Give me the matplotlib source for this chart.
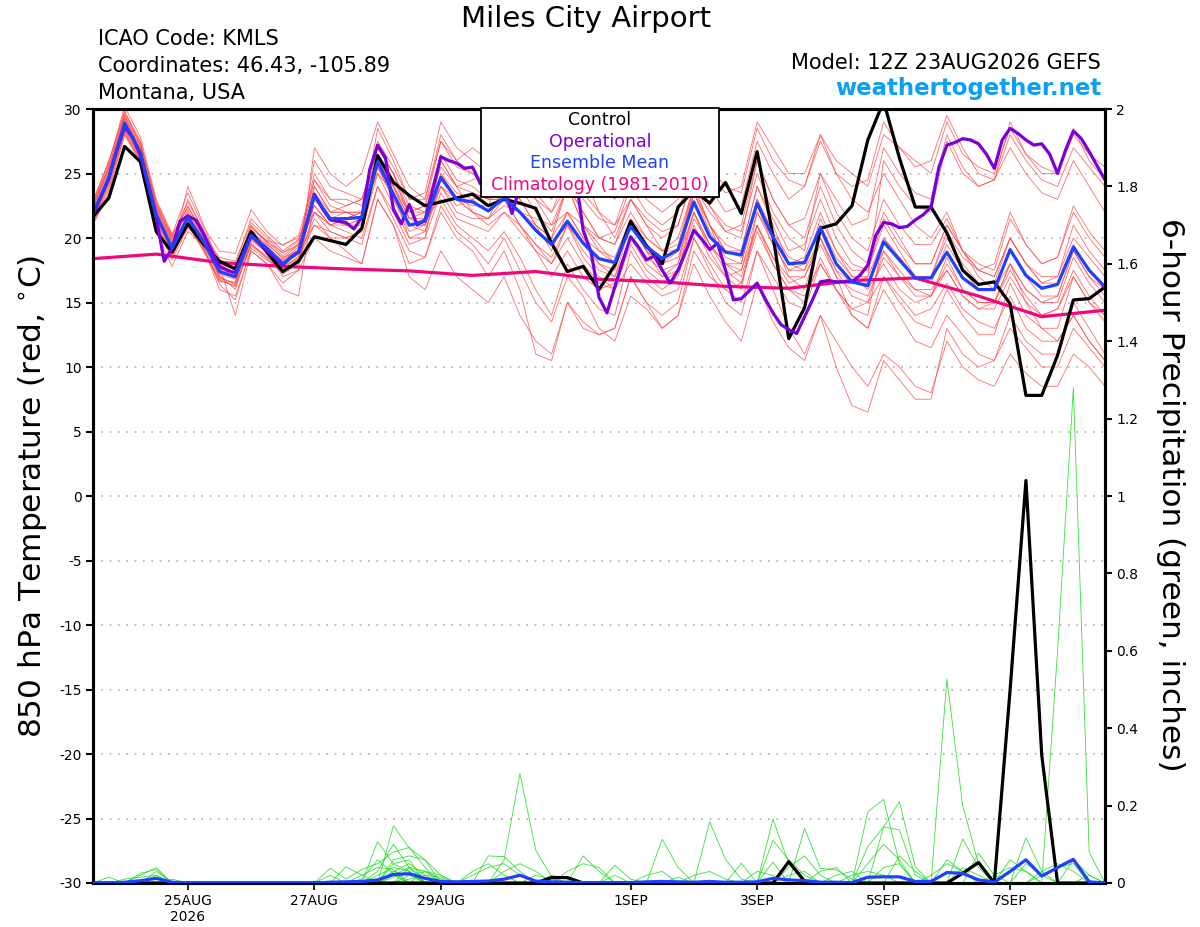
import matplotlib
matplotlib.use('Agg')
import matplotlib.pyplot as plt
from matplotlib.patches import Rectangle
from datetime import datetime, timedelta

plt.rcParams['font.family'] = ['DejaVu Sans']

# ---------------- time axes ----------------
run_start = datetime(2026, 8, 23, 12)
times6 = [run_start + timedelta(hours=6 * i) for i in range(65)]
times3 = [run_start + timedelta(hours=3 * j) for j in range(129)]
times_clim = [run_start + timedelta(days=k) for k in range(17)]

tick_dates = [datetime(2026, 8, 25), datetime(2026, 8, 27), datetime(2026, 8, 29),
              datetime(2026, 9, 1), datetime(2026, 9, 3), datetime(2026, 9, 5),
              datetime(2026, 9, 7)]
tick_labels = ["25AUG\n2026", "27AUG", "29AUG", "1SEP", "3SEP", "5SEP", "7SEP"]

temp_ticks = [-30, -25, -20, -15, -10, -5, 0, 5, 10, 15, 20, 25, 30]
precip_ticks = [0, 0.2, 0.4, 0.6, 0.8, 1.0, 1.2, 1.4, 1.6, 1.8, 2.0]
precip_tick_labels = ["0", "0.2", "0.4", "0.6", "0.8", "1", "1.2", "1.4", "1.6", "1.8", "2"]

# ---------------- 850 hPa temperature (deg C), 6-hourly ----------------
ens_mean_t = [21.9, 24.7, 28.9, 26.6, 21.8, 19.2, 21.6, 19.7, 17.4, 17.0,
              20.2, 19.2, 18.0, 18.9, 23.3, 21.5, 21.5, 21.6, 25.9, 23.4,
              21.0, 21.3, 24.7, 23.0, 22.8, 22.1, 23.1, 22.0, 20.6, 19.5,
              21.3, 19.6, 18.4, 18.1, 20.9, 19.3, 18.4, 19.1, 22.8, 20.1,
              18.9, 18.7, 22.7, 20.1, 18.0, 18.1, 20.8, 18.0, 16.6, 16.3,
              19.7, 18.3, 16.9, 16.9, 18.9, 16.9, 16.0, 16.0, 19.1, 17.1,
              16.1, 16.4, 19.3, 17.5, 16.2]

control_t = [21.65, 23.1, 27.1, 25.9, 20.5, 18.9, 21.1, 19.5, 18.2, 17.6,
             20.5, 18.9, 17.4, 18.2, 20.1, 19.8, 19.5, 20.75, 26.4, 24.3,
             23.3, 22.5, 22.8, 23.1, 23.4, 22.5, 23.0, 22.7, 22.3, 19.6,
             17.4, 17.8, 16.0, 17.9, 21.3, 19.4, 18.0, 22.4, 23.7, 22.7,
             24.3, 21.9, 26.7, 20.2, 12.2, 14.6, 20.75, 21.1, 22.5, 27.6,
             30.6, 26.2, 22.4, 22.4, 20.4, 17.5, 16.4, 16.6, 14.9, 7.8,
             7.8, 10.9, 15.2, 15.3, 16.2]

# operational run, 3-hourly
oper_t = [21.8, 23.2, 24.6, 26.8, 28.6, 27.8, 26.4, 24.0, 21.6, 18.2,
          19.2, 21.3, 21.7, 21.4, 20.3, 19.0, 17.8, 17.5, 17.3, 18.8,
          20.2, 19.6, 19.0, 18.5, 17.9, 18.5, 18.9, 21.0, 23.4, 22.3,
          21.4, 21.3, 21.2, 20.7, 21.6, 25.3, 27.2, 26.2, 22.2, 21.1,
          22.6, 21.0, 21.4, 23.8, 26.3, 26.0, 25.8, 25.4, 25.5, 24.2,
          24.0, 24.5, 23.8, 21.9, 24.0, 24.4, 24.8, 25.0, 24.5, 24.9,
          24.6, 25.0, 20.6, 18.9, 15.4, 14.2, 16.2, 18.2, 20.1, 19.3,
          18.3, 18.6, 17.5, 16.5, 17.5, 19.0, 20.6, 19.9, 19.1, 19.6,
          17.5, 15.2, 15.3, 15.9, 16.5, 15.3, 14.2, 13.3, 12.9, 12.6,
          13.9, 15.2, 16.6, 16.7, 16.6, 16.6, 16.6, 17.1, 17.9, 20.2,
          21.2, 21.1, 20.8, 20.9, 21.4, 21.8, 22.4, 25.5, 27.2, 27.4,
          27.7, 27.6, 27.3, 26.5, 25.4, 27.6, 28.5, 28.1, 27.6, 27.2,
          27.3, 26.5, 25.0, 26.8, 28.3, 27.7, 26.7, 25.6, 24.5]

# climatology (1981-2010), daily at 12Z
clim_t = [18.4, 18.75, 18.1, 17.8, 17.6, 17.45, 17.1, 17.4, 16.8, 16.6,
          16.25, 16.1, 16.7, 16.9, 15.5, 13.9, 14.4]

# ensemble members (20 perturbations), 6-hourly
mem01 = [22.5, 25.5, 29.8, 27.5, 22.6, 19.8, 22.5, 20.3, 18.0, 17.6, 21.0, 19.6, 18.4, 19.5,
         25, 23, 23, 22.5, 27.5, 25.5, 23, 23, 27.5, 25.5, 25, 24, 28, 26, 25, 23.5,
         27, 25, 24, 23, 26.5, 24.5, 23.5, 24, 28, 25.5, 24, 23.5, 28.5, 26, 24.5, 24,
         27.5, 25, 24, 24.5, 29, 27, 26, 25, 29, 26.5, 25.5, 25, 28.5, 26.5, 25.5, 25,
         28, 26.5, 25.5]
mem02 = [21.2, 24.0, 28.3, 26.0, 21.0, 18.6, 21.0, 19.0, 16.8, 16.2, 19.5, 18.6, 17.4, 18.3,
         22, 20.5, 20, 19.5, 24, 21.5, 19, 18.5, 22.5, 20.5, 19.5, 18, 20, 17.5, 15, 13.5,
         17, 15.5, 13, 12, 15.5, 14.5, 13, 14, 18, 15.5, 13.5, 12, 16.5, 13.5, 11.5, 10.5,
         14, 12, 10, 8.5, 11, 10, 8.5, 8, 12, 10, 9, 8.5, 11, 9.5, 8.5, 8.5,
         11, 10, 8.5]
mem03 = [22.8, 26.0, 29.5, 26.8, 22.2, 19.5, 23.0, 20.5, 17.2, 16.8, 20.0, 19.0, 17.0, 17.5,
         27, 25, 24, 25, 29, 26.5, 24, 23, 28, 26, 27, 26, 29, 27, 25, 24,
         28, 25, 22, 20, 23, 21, 19, 19, 24, 21, 18, 17, 21, 18, 16, 15.5,
         18, 16, 14.5, 15, 19, 17.5, 16, 15.5, 18.5, 16, 15, 15, 18, 16, 15, 15.5,
         19, 17, 16]
mem04 = [21.5, 24.5, 28.5, 26.3, 21.5, 18.8, 21.2, 19.2, 16.0, 15.5, 19.0, 18.0, 16.5, 17.5,
         20, 19, 18.5, 18, 23, 21, 18, 18.5, 22, 20, 19, 17, 19, 16, 11, 10.5,
         15, 13, 12.5, 13, 17, 15, 13, 14, 19, 17, 16, 15, 19, 16, 13, 11,
         14, 10, 7, 6.5, 10.5, 9, 7.5, 7.5, 13, 11, 10, 10.5, 14, 12, 11, 11,
         15, 13, 11]
mem05 = [22.0, 25.0, 29.2, 27.0, 22.5, 20.0, 22.0, 20.0, 18.5, 18.2, 21.2, 20.0, 18.8, 19.8,
         24, 22, 22.5, 23, 26, 24, 21, 21, 24, 23, 23.5, 23, 25, 24, 23, 22,
         24, 22, 20, 19.5, 22, 20, 19, 19.5, 24, 22, 20.5, 21, 26, 23, 21, 20,
         24, 21, 19, 18, 22, 20, 18, 18, 21, 19, 17.5, 17, 20, 18, 16.5, 17,
         20, 18.5, 17]
mem06 = [21.0, 23.5, 28.0, 25.8, 20.5, 17.8, 20.5, 19.5, 17.5, 17.8, 20.5, 19.5, 18.5, 19.0,
         21, 20, 20, 20.5, 25, 23.5, 20, 20, 26, 24, 24.5, 25, 27, 25, 23.5, 22,
         25, 23.5, 22, 21, 24.5, 23, 22, 23, 27, 25, 23.5, 24, 29, 27, 25, 25,
         28, 25, 23, 22, 25, 23, 21, 20, 22, 19, 17, 16, 18, 15, 13, 12,
         14, 12, 10.5]
mem07 = [22.3, 25.3, 29.0, 27.2, 22.0, 19.0, 24.0, 21.0, 17.8, 14.0, 19.0, 18.0, 16.0, 15.5,
         23, 21.5, 21, 21, 26.5, 24.5, 22, 22.5, 26, 24, 22, 21.5, 24, 23, 21, 19,
         22, 20, 18, 17.5, 21, 19.5, 18.5, 19, 23.5, 21, 19, 18.5, 23, 20, 17, 16,
         20, 17, 14, 13, 16, 14, 12, 11.5, 14, 12.5, 11, 10.5, 13, 11.5, 10, 10,
         13, 11.5, 10]
mem08 = [21.8, 24.5, 28.7, 26.5, 21.8, 19.4, 21.8, 19.9, 17.5, 17.2, 20.4, 19.4, 18.2, 19.3,
         22.5, 21, 21, 21.5, 25.5, 23, 20.5, 21, 25, 23.5, 23, 22, 23.5, 22, 21, 20,
         22, 20, 19, 18.5, 21.5, 20, 19, 20, 24, 21, 19.5, 19, 24, 21.5, 19, 19.5,
         23, 20, 18, 17.5, 21.5, 19.5, 18, 18, 21, 19, 18, 17.5, 21.5, 19.5, 18, 18.5,
         22, 20, 18.5]
mem09 = [22.6, 25.8, 30.2, 27.8, 23.0, 20.3, 23.5, 20.8, 19.0, 18.8, 22.2, 20.5, 19.4, 20.2,
         24.5, 22.5, 22, 22, 27, 25, 21.5, 22, 26.5, 24.5, 24, 23, 23, 22, 21.5, 21,
         22, 21, 20, 20.5, 24, 22, 21, 22, 26, 24, 22, 22.5, 27.5, 25, 23, 24,
         28, 26, 25, 24, 28, 27, 25.5, 26, 29.5, 27, 25, 24.5, 27, 25, 23.5, 23,
         26, 24, 22]
mem10 = [21.4, 24.2, 28.4, 26.2, 21.3, 18.9, 21.0, 19.0, 16.6, 16.6, 20.0, 18.8, 17.8, 18.5,
         21.5, 20, 19, 18, 23, 21, 17, 16, 19, 17, 16, 15, 17, 14, 12, 11,
         15, 13.5, 12.5, 13, 17, 15, 14, 15, 20, 17.5, 15, 14, 19, 17, 15, 14.5,
         18, 16, 14, 13, 17, 15, 13.5, 13, 16, 14, 12.5, 12.5, 16.5, 14, 13, 13,
         17, 15, 13.5]
mem11 = [22.1, 24.8, 29.0, 26.5, 21.6, 19.0, 21.4, 19.6, 17.0, 16.4, 19.6, 18.4, 17.2, 18.0,
         23.5, 22, 22, 21.5, 26, 24, 21.5, 21, 25, 23, 22, 21, 22, 20.5, 19, 17,
         19, 17, 16, 16.5, 20, 18, 17, 18, 22, 19, 17, 17.5, 22, 19.5, 17.5, 18,
         21, 18.5, 17, 16, 18, 16, 15, 15.5, 17.5, 15.5, 14.5, 15, 18, 16, 15, 15,
         18.5, 16.5, 15]
mem12 = [21.7, 24.6, 28.8, 26.9, 22.1, 19.6, 22.2, 20.0, 17.9, 17.6, 20.8, 19.8, 18.6, 19.6,
         22, 21, 21.5, 22, 26, 24, 22, 22.5, 27.5, 26, 25, 24, 26, 25, 24, 23,
         25, 23, 21.5, 21, 23, 21.5, 20.5, 21, 25, 22.5, 21, 20.5, 25, 22, 20, 19,
         25, 23, 21, 21.5, 27, 25, 23.5, 23, 28, 25.5, 24, 24.5, 29, 26.5, 25, 25,
         28.5, 26, 24.5]
mem13 = [22.9, 25.9, 29.9, 27.1, 22.4, 19.9, 21.9, 19.3, 16.4, 15.2, 19.2, 18.3, 17.6, 18.6,
         24, 22, 22, 21.5, 28.5, 26, 23, 23.5, 29, 27, 26, 25, 26.5, 24, 23, 21,
         24, 21, 19, 18, 21, 19, 18, 18.5, 22, 19.5, 18, 17.5, 21, 18.5, 16.5, 17,
         19.5, 17, 16, 15.5, 18.5, 17, 16, 16, 17.5, 15.5, 14.5, 14.5, 17, 15, 14, 14.5,
         17.5, 15.5, 14]
mem14 = [21.3, 24.3, 28.2, 26.1, 20.9, 18.3, 20.8, 19.5, 17.6, 17.4, 20.6, 19.8, 19.5, 20.0,
         22.5, 21, 20.5, 20, 24, 22, 19.5, 20, 23.5, 21.5, 21, 20.5, 22, 21, 19.5, 18,
         20, 18, 16.5, 16, 18, 16.5, 15.5, 16, 20, 18, 16, 16.5, 21, 18.5, 17, 17,
         20, 17.5, 16.5, 17, 26, 24, 22.5, 22, 27.5, 25, 24, 24.5, 28, 26, 24.5, 24,
         27, 25.5, 24]
mem15 = [22.4, 25.2, 29.3, 26.7, 21.9, 19.3, 21.7, 19.8, 17.3, 16.9, 20.3, 19.3, 18.1, 18.8,
         26, 24, 23.5, 23, 27, 25, 22.5, 22, 24.5, 23, 22.5, 22.5, 25.5, 24, 22, 20.5,
         24, 22, 20, 19.5, 23, 21, 20, 21, 25, 22.5, 20.5, 20, 26, 23, 21, 21.5,
         25, 22, 20, 19, 23, 21, 19.5, 19.5, 21.5, 19, 17.5, 17, 20, 18, 16.5, 16.5,
         19.5, 17.5, 16]
mem16 = [21.6, 24.9, 29.6, 27.4, 22.8, 20.1, 22.8, 20.6, 18.3, 17.9, 21.5, 20.2, 19.0, 19.9,
         23, 21.5, 22, 22, 25, 22.5, 20, 20.5, 24, 22, 21.5, 21.5, 22.5, 22, 20.5, 19.5,
         21, 19, 17.5, 17, 20, 18.5, 17.5, 18, 23.5, 20.5, 18.5, 18, 22.5, 19.5, 17.5, 17.5,
         20, 17.5, 15.5, 15, 17, 15.5, 14, 14.5, 16.5, 14.5, 13.5, 13, 15.5, 13, 12, 12,
         14, 12, 10.5]
mem17 = [22.2, 25.6, 29.1, 26.4, 21.7, 19.1, 21.5, 19.7, 17.1, 16.0, 19.8, 18.9, 17.7, 18.4,
         21, 20.5, 20, 20.5, 25.5, 23, 21, 21.5, 24, 22.5, 23, 23.5, 25, 23, 21, 20,
         24, 21, 19.5, 18, 21, 19, 17, 17.5, 21.5, 19.5, 17.5, 16.5, 20.5, 18, 16, 15,
         18.5, 16, 14.5, 14, 20, 18.5, 17, 17, 20.5, 18.5, 17.5, 18, 22, 19.5, 18, 18.5,
         22.5, 20.5, 19]
mem18 = [21.9, 24.4, 28.6, 26.6, 22.3, 19.7, 21.3, 19.4, 16.9, 16.5, 19.9, 19.1, 18.3, 19.1,
         24.5, 23, 22.5, 23, 27, 25, 22, 22, 25.5, 24, 23.5, 23, 23, 21, 19, 18,
         21, 18.5, 17, 16, 19.5, 17.5, 16.5, 17.5, 22, 19.5, 18, 18, 23, 20.5, 18.5, 18,
         21, 18, 16.5, 16.5, 19, 17, 15.5, 15.5, 18, 16, 15, 15, 17.5, 15.5, 14, 14.5,
         17, 15, 14]
mem19 = [22.7, 25.4, 29.4, 27.3, 22.7, 20.2, 22.4, 20.2, 18.2, 17.7, 20.9, 19.7, 18.9, 19.4,
         22, 21, 21.5, 22, 26, 24, 21.5, 21.5, 23, 21, 20, 19, 20.5, 18.5, 16, 14,
         18, 16, 14.5, 14, 19, 17, 16, 17, 21, 18.5, 17, 16, 22, 20, 18, 17.5,
         21.5, 19, 17.5, 17.5, 21, 19, 17, 17, 20, 18, 16.5, 16.5, 20, 18, 17, 17,
         21, 19, 17.5]
mem20 = [21.1, 23.8, 28.1, 25.9, 21.2, 18.5, 21.1, 19.1, 16.7, 16.3, 19.4, 18.5, 17.3, 18.2,
         23, 21.5, 21, 21.5, 25.5, 23.5, 21, 20.5, 24.5, 23, 22, 21.5, 23, 21, 19.5, 18.5,
         21, 19.5, 18, 17, 21, 19, 18, 19, 23.5, 21, 19, 19, 24, 21, 18, 18.5,
         22, 19, 17, 17, 20, 18.5, 17, 16.5, 19.5, 17.5, 16, 16, 19, 17, 15.5, 15.5,
         19, 17, 15.5]
members_t = [mem01, mem02, mem03, mem04, mem05, mem06, mem07, mem08, mem09, mem10,
             mem11, mem12, mem13, mem14, mem15, mem16, mem17, mem18, mem19, mem20]

# ---------------- 6-hour precipitation (inches) ----------------
ens_mean_p = [0, 0, .002, .006, .012, .002, 0, 0, 0, 0,
              0, 0, 0, 0, 0, .002, .003, .004, .008, .022,
              .024, .012, .004, .003, .004, .005, .01, .02, .005, .003,
              .002, .001, .001, .001, .001, .003, .004, .003, .002, .004,
              .002, .002, .003, .012, .008, .006, .002, .002, .001, .015,
              .016, .016, .004, .004, .027, .025, .008, .002, .03, .06,
              .018, .04, .061, .003, 0]
control_p = [0, 0, 0, 0, 0, 0, 0, 0, 0, 0,
             0, 0, 0, 0, 0, 0, 0, 0, 0, 0,
             0, 0, 0, 0, 0, 0, 0, 0, 0, .014,
             .014, 0, 0, 0, 0, 0, 0, 0, 0, 0,
             0, 0, 0, 0, .055, .005, 0, 0, 0, 0,
             0, 0, 0, 0, 0, .025, .053, 0, .5, 1.04,
             .33, 0, 0, 0, 0]

pm01 = [0, 0, 0, .02, .04, 0, 0, 0, 0, 0,
        0, 0, 0, 0, 0, 0, 0, 0, .107, .05,
        .03, 0, 0, 0, 0, 0, .06, .283, .085, .016,
        0, 0, 0, 0, 0, 0, 0, 0, 0, 0,
        0, 0, 0, 0, 0, 0, 0, 0, 0, 0,
        0, 0, 0, 0, .527, .2, .05, 0, 0, 0,
        0, 0, 0, 0, 0]
pm02 = [0, .015, 0, 0, .03, 0, 0, 0, 0, 0,
        0, 0, 0, 0, 0, 0, 0, 0, 0, .148,
        .09, .06, 0, 0, 0, .07, .068, .03, 0, 0,
        0, 0, 0, 0, 0, 0, 0, 0, 0, 0,
        0, 0, 0, 0, 0, 0, 0, 0, 0, .184,
        .216, .05, 0, 0, 0, 0, 0, 0, 0, 0,
        0, .6, 1.28, .08, 0]
pm03 = [0, 0, 0, .025, .035, 0, 0, 0, 0, 0,
        0, 0, 0, 0, 0, .038, .01, .035, .05, .08,
        .092, .04, 0, 0, 0, 0, 0, 0, 0, 0,
        0, .07, .03, 0, 0, 0, .113, .04, 0, 0,
        0, 0, 0, .165, .05, 0, 0, 0, 0, 0,
        0, 0, 0, 0, 0, 0, 0, 0, 0, .117,
        .03, 0, 0, 0, 0]
pm04 = [0, 0, 0, 0, 0, 0, 0, 0, 0, 0,
        0, 0, 0, 0, 0, 0, .042, .02, 0, .06,
        .07, .06, .02, 0, 0, 0, 0, 0, 0, 0,
        0, 0, 0, .046, .01, 0, 0, 0, 0, .158,
        .061, .01, 0, 0, 0, 0, 0, 0, 0, 0,
        .145, .21, .042, 0, 0, 0, 0, 0, 0, 0,
        0, 0, 0, 0, 0]
pm05 = [0, 0, 0, 0, .02, 0, 0, 0, 0, 0,
        0, 0, 0, 0, 0, 0, 0, 0, .03, .1,
        .04, 0, 0, 0, .02, .04, .05, .02, 0, 0,
        0, 0, 0, 0, 0, 0, 0, 0, 0, 0,
        0, 0, 0, 0, 0, .141, .038, .034, .01, 0,
        0, 0, 0, 0, 0, 0, 0, 0, 0, .05,
        .02, 0, 0, 0, 0]
pm06 = [0, 0, 0, 0, 0, 0, 0, 0, 0, 0,
        0, 0, 0, 0, 0, 0, 0, 0, 0, .03,
        .05, .02, 0, 0, 0, 0, 0, 0, 0, 0,
        0, 0, 0, 0, 0, 0, 0, 0, 0, 0,
        0, 0, 0, .11, .06, .02, 0, 0, 0, .094,
        .145, .137, .02, 0, 0, 0, .077, .02, 0, 0,
        0, 0, 0, 0, 0]
pm07 = [0, 0, 0, 0, 0, 0, 0, 0, 0, 0,
        0, 0, 0, 0, 0, .02, 0, .01, .06, .025,
        0, 0, 0, 0, 0, 0, 0, 0, 0, 0,
        .03, .05, .04, 0, 0, 0, 0, 0, 0, 0,
        0, .051, 0, .054, 0, 0, 0, 0, 0, 0,
        0, 0, 0, 0, 0, .114, .04, 0, 0, 0,
        0, 0, 0, 0, 0]
pm08 = [0, 0, 0, 0, 0, 0, 0, 0, 0, 0,
        0, 0, 0, 0, 0, 0, 0, 0, 0, 0,
        .02, .03, .01, 0, 0, 0, .03, .05, .03, 0,
        0, 0, 0, 0, 0, 0, 0, 0, 0, 0,
        0, 0, 0, 0, 0, 0, 0, .02, .03, 0,
        0, 0, 0, 0, .06, .03, 0, 0, 0, 0,
        0, 0, 0, .02, 0]
pm09 = [0, 0, 0, 0, 0, 0, 0, 0, 0, 0,
        0, 0, 0, 0, 0, 0, 0, 0, .02, .04,
        .03, 0, 0, 0, 0, 0, 0, 0, 0, 0,
        0, 0, 0, 0, 0, .02, .03, 0, 0, 0,
        0, 0, 0, 0, 0, 0, 0, 0, 0, .05,
        .1, .06, 0, 0, 0, 0, 0, 0, .06, .03,
        0, 0, 0, 0, 0]
pm10 = [0, 0, 0, 0, 0, 0, 0, 0, 0, 0,
        0, 0, 0, 0, 0, 0, 0, 0, 0, .015,
        .025, 0, 0, 0, 0, 0, 0, 0, 0, 0,
        0, 0, 0, 0, 0, 0, 0, 0, 0, 0,
        0, 0, 0, 0, .04, .07, .02, 0, 0, 0,
        0, 0, 0, 0, 0, 0, 0, 0, 0, 0,
        .02, .04, .05, 0, 0]
pm11 = [0, 0, .01, .015, .02, 0, 0, 0, 0, 0,
        0, 0, 0, 0, 0, 0, 0, 0, 0, 0,
        .01, .02, .015, 0, 0, 0, 0, 0, 0, 0,
        0, 0, 0, 0, 0, 0, 0, 0, .02, .03,
        .01, 0, 0, 0, 0, 0, 0, 0, 0, 0,
        0, 0, 0, 0, 0, 0, 0, 0, 0, 0,
        0, 0, 0, 0, 0]
pm12 = [0, 0, 0, 0, 0, 0, 0, 0, 0, 0,
        0, 0, 0, 0, 0, 0, 0, .02, .04, .035,
        0, 0, 0, 0, 0, 0, 0, 0, 0, 0,
        0, 0, 0, 0, 0, 0, 0, 0, 0, 0,
        0, 0, 0, 0, 0, 0, 0, 0, 0, 0,
        0, .07, .03, 0, 0, 0, 0, .02, .04, .03,
        0, 0, 0, 0, 0]
pm13 = [0, 0, 0, 0, 0, 0, 0, 0, 0, 0,
        0, 0, 0, 0, 0, 0, 0, 0, 0, .02,
        .04, .01, 0, 0, 0, 0, 0, 0, .02, .01,
        0, 0, 0, 0, 0, 0, 0, 0, 0, 0,
        0, 0, .03, .02, 0, 0, 0, 0, 0, 0,
        0, 0, 0, 0, 0, 0, 0, 0, 0, 0,
        0, 0, 0, 0, 0]
pm14 = [0, 0, 0, 0, 0, 0, 0, 0, 0, 0,
        0, 0, 0, 0, 0, 0, 0, 0, 0, 0,
        0, 0, 0, 0, .03, .05, .02, 0, 0, 0,
        0, 0, 0, .02, 0, 0, 0, 0, 0, 0,
        0, 0, 0, 0, 0, 0, 0, 0, 0, 0,
        0, 0, 0, .02, .05, .03, 0, 0, 0, 0,
        0, 0, 0, 0, 0]
pm15 = [0, 0, 0, 0, 0, 0, 0, 0, 0, 0,
        0, 0, 0, 0, 0, 0, 0, 0, 0, 0,
        0, .03, .02, 0, 0, 0, 0, 0, 0, 0,
        0, 0, 0, 0, 0, 0, 0, 0, 0, 0,
        0, 0, 0, 0, 0, 0, .03, .04, 0, 0,
        0, 0, 0, 0, 0, 0, 0, 0, 0, 0,
        0, 0, .06, .02, 0]
pm16 = [0, 0, 0, 0, 0, .01, 0, 0, 0, 0,
        0, 0, 0, 0, 0, 0, 0, 0, 0, .05,
        .06, 0, 0, 0, 0, 0, 0, 0, 0, 0,
        0, 0, 0, 0, 0, 0, 0, 0, 0, 0,
        0, 0, 0, 0, 0, 0, 0, 0, 0, 0,
        .04, .05, 0, 0, 0, 0, 0, 0, 0, 0,
        0, 0, 0, 0, 0]
pm17 = [0, 0, 0, 0, 0, 0, 0, 0, 0, 0,
        0, 0, 0, 0, 0, 0, 0, 0, .01, .02,
        0, 0, 0, 0, 0, 0, 0, 0, 0, 0,
        0, 0, 0, 0, 0, 0, 0, .015, 0, 0,
        0, 0, 0, 0, 0, 0, 0, 0, 0, 0,
        0, 0, 0, 0, 0, 0, 0, 0, 0, 0,
        .03, .05, .03, 0, 0]
pm18 = [0, 0, 0, 0, 0, 0, 0, 0, 0, 0,
        0, 0, 0, 0, 0, 0, 0, 0, 0, 0,
        .04, .03, 0, 0, 0, 0, 0, 0, 0, 0,
        0, 0, 0, 0, 0, 0, 0, 0, 0, 0,
        0, 0, 0, 0, .02, .03, 0, 0, 0, 0,
        0, 0, 0, 0, 0, 0, 0, 0, 0, 0,
        0, 0, 0, 0, 0]
pm19 = [0, 0, 0, 0, 0, 0, 0, 0, 0, 0,
        0, 0, 0, 0, 0, 0, 0, 0, 0, 0,
        0, 0, 0, 0, 0, 0, 0, 0, 0, .02,
        .01, 0, 0, 0, 0, 0, 0, 0, 0, 0,
        0, 0, 0, 0, 0, 0, 0, 0, 0, 0,
        0, 0, 0, 0, 0, .04, .02, 0, 0, 0,
        0, 0, 0, 0, 0]
pm20 = [0, 0, 0, 0, 0, 0, 0, 0, 0, 0,
        0, 0, 0, 0, 0, 0, 0, 0, 0, .03,
        .02, 0, 0, 0, 0, 0, 0, 0, 0, 0,
        0, 0, 0, 0, 0, 0, 0, 0, 0, 0,
        0, 0, 0, 0, 0, 0, 0, 0, .02, .03,
        .02, 0, 0, 0, 0, 0, 0, 0, 0, 0,
        0, 0, 0, 0, 0]
members_p = [pm01, pm02, pm03, pm04, pm05, pm06, pm07, pm08, pm09, pm10,
             pm11, pm12, pm13, pm14, pm15, pm16, pm17, pm18, pm19, pm20]

# ---------------- colours ----------------
c_member_t = '#ff4848'
c_member_p = '#22dd22'
c_control = '#000000'
c_oper = '#7b00d8'
c_mean = '#2040ff'
c_clim = '#f0087f'
c_site = '#0ba0f5'

# ---------------- figure ----------------
fig = plt.figure(figsize=(12, 9.27), dpi=100)
ax = fig.add_axes([93 / 1200, 1 - 883 / 927, (1105 - 93) / 1200, (883 - 109) / 927])
ax2 = ax.twinx()

for m in members_t:
    ax.plot(times6, m, color=c_member_t, lw=0.6, alpha=0.8, zorder=2)
ax.plot(times_clim, clim_t, color=c_clim, lw=2.3, zorder=3)
ax.plot(times6, control_t, color=c_control, lw=2.3, zorder=4)
ax.plot(times3, oper_t, color=c_oper, lw=2.3, zorder=5)
ax.plot(times6, ens_mean_t, color=c_mean, lw=2.3, zorder=6)

for p in members_p:
    ax2.plot(times6, p, color=c_member_p, lw=0.6, alpha=0.9, zorder=2)
ax2.plot(times6, control_p, color=c_control, lw=2.3, zorder=4)
ax2.plot(times6, ens_mean_p, color=c_mean, lw=2.3, zorder=5)

ax.set_xlim(times6[0], times6[-1])
ax.set_ylim(-30, 30)
ax2.set_ylim(0, 2)

ax.set_yticks(temp_ticks)
ax.set_yticklabels([str(t) for t in temp_ticks])
ax2.set_yticks(precip_ticks)
ax2.set_yticklabels(precip_tick_labels)
ax.set_xticks(tick_dates)
ax.set_xticklabels(tick_labels)

for t in temp_ticks[1:-1]:
    ax.axhline(t, color='#b0b0b0', lw=1.2, linestyle=(0, (1, 4)), zorder=1)

ax.tick_params(axis='y', direction='out', length=5, width=1.5, labelsize=10, pad=3)
ax.tick_params(axis='x', direction='out', length=5, width=1.2, labelsize=10, pad=3)
ax2.tick_params(axis='y', direction='out', length=5, width=1.5, labelsize=10, pad=3)

for a in (ax, ax2):
    for s in a.spines.values():
        s.set_linewidth(2.2)

# ---------------- legend box ----------------
rect = Rectangle((481 / 1200, 1 - 197 / 927), (719 - 481) / 1200, (197 - 108) / 927,
                 transform=fig.transFigure, facecolor='white', edgecolor='black',
                 lw=1.3, zorder=10)
fig.add_artist(rect)
legend_items = [("Control", c_control), ("Operational", c_oper),
                ("Ensemble Mean", c_mean), ("Climatology (1981-2010)", c_clim)]
legend_y = [120, 142, 163, 185]
for (txt, col), yy in zip(legend_items, legend_y):
    fig.text(0.5, 1 - yy / 927, txt, color=col, ha='center', va='center',
             fontsize=12.5, zorder=11)

# ---------------- header texts ----------------
fig.text(586 / 1200, 1 - 19 / 927, "Miles City Airport", ha='center', va='center', fontsize=21)
header_lines = ["ICAO Code: KMLS", "Coordinates: 46.43, -105.89", "Montana, USA"]
for txt, yy in zip(header_lines, [39, 66, 93]):
    fig.text(98 / 1200, 1 - yy / 927, txt, ha='left', va='center', fontsize=15)
fig.text(1101 / 1200, 1 - 63 / 927, "Model: 12Z 23AUG2026 GEFS", ha='right', va='center', fontsize=15)
fig.text(1101 / 1200, 1 - 89 / 927, "weathertogether.net", ha='right', va='center',
         fontsize=16.5, fontweight='bold', color=c_site)

fig.text(33 / 1200, 1 - 496 / 927, "850 hPa Temperature (red, $^{\\circ}$C)", rotation=90,
         ha='center', va='center', fontsize=22.5)
fig.text(1170 / 1200, 1 - 495 / 927, "6-hour Precipitation (green, inches)", rotation=-90,
         ha='center', va='center', fontsize=22.5)

fig.savefig('out.png', dpi=100)
